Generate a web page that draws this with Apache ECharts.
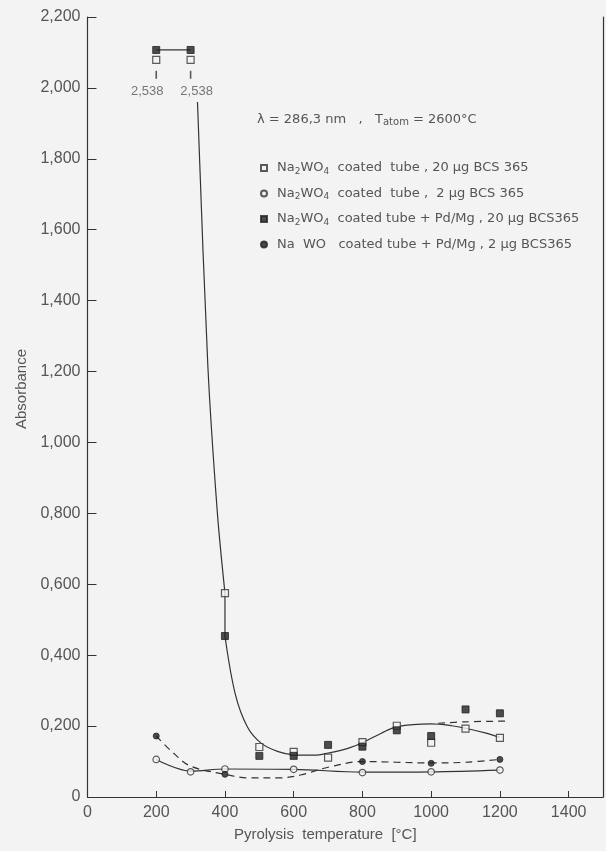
<!DOCTYPE html>
<html>
<head>
<meta charset="utf-8">
<script src="https://cdn.jsdelivr.net/npm/echarts@6/dist/echarts.min.js"></script>
<style>
  html, body { margin: 0; padding: 0; background: #f3f3f3; }
  #chart { width: 606px; height: 851px; }
</style>
</head>
<body>
<div id="chart"></div>
<script>
// Pyrolysis temperatures (°C) of the measurements
const temperatures = [200, 300, 400, 500, 600, 700, 800, 900, 1000, 1100, 1200];

// Absorbance per temperature (null = not measured)
const coated20   = [2.538, 2.538, 0.575, 0.141, 0.127, 0.111, 0.155, 0.201, 0.153, 0.193, 0.167];
const coated2    = [0.106, 0.071, 0.079, null, 0.078, null, 0.069, null, 0.071, null, 0.076];
const coatedPd20 = [2.538, 2.538, 0.454, 0.116, 0.116, 0.147, 0.142, 0.188, 0.172, 0.247, 0.236];
const coatedPd2  = [0.172, null, 0.064, null, null, null, 0.100, null, 0.095, null, 0.106];

// Hand-drawn trend curves, [temperature, absorbance]
const trendHighDrop = [[320, 1.96], [350, 1.22], [378, 0.80], [400, 0.575]];
const trendHighStep = [[400, 0.575], [400, 0.454]];
const trendHighTail = [[400, 0.454], [430, 0.29], [465, 0.198], [505, 0.152], [555, 0.128], [600, 0.119],
                       [660, 0.118], [700, 0.124], [760, 0.138], [800, 0.153], [855, 0.18], [900, 0.198],
                       [1000, 0.206], [1060, 0.201], [1100, 0.194], [1160, 0.18], [1200, 0.168]];
const trendHighPd   = [[1020, 0.208], [1100, 0.212], [1215, 0.214]];
const trendLow      = [[200, 0.106], [300, 0.073], [400, 0.079], [600, 0.078], [800, 0.070], [1000, 0.071], [1200, 0.076]];
const trendLowPd    = [[200, 0.172], [250, 0.124], [300, 0.087], [400, 0.064], [470, 0.054], [560, 0.054],
                       [620, 0.062], [700, 0.084], [800, 0.100], [1000, 0.096], [1100, 0.098], [1200, 0.106]];

// Axis ticks
const xTicks = { min: 0, max: 1500, step: 200 };
const yTicks = { min: 0, max: 2.2, step: 0.2 };

// Off-scale readings are parked just under the top of the frame
const OFF_FILLED = 2.107, OFF_OPEN = 2.079, OFF_ARROW = 2.037;

const names = [
  'Na2WO4  coated  tube , 20 µg BCS 365',
  'Na2WO4  coated  tube ,  2 µg BCS 365',
  'Na2WO4  coated tube + Pd/Mg , 20 µg BCS365',
  'Na  WO   coated tube + Pd/Mg , 2 µg BCS365'
];

const INK = '#333';
const TXT = '#555';
const BG = '#f3f3f3';

function points(values, offLevel) {
  const out = [];
  temperatures.forEach((t, i) => {
    const v = values[i];
    if (v == null) return;
    out.push([t, v > yTicks.max ? offLevel : v, v]);
  });
  return out;
}
function offScale(values, level) {
  const out = [];
  temperatures.forEach((t, i) => {
    const v = values[i];
    if (v != null && v > yTicks.max) out.push([t, level, v]);
  });
  return out;
}
const fmtComma = v => v === 0 ? '0' : v.toFixed(3).replace('.', ',');

function trend(data, dashed, smooth) {
  return {
    type: 'line', data, smooth: smooth == null ? 0.35 : smooth, showSymbol: false, silent: true,
    lineStyle: { color: INK, width: 1.2, type: dashed ? [7, 5] : 'solid' }, z: 2
  };
}

// value labels of the off-scale points, spread apart so they do not collide
const arrowPoints = offScale(coated20, OFF_ARROW).map((p, i, all) => ({
  value: p,
  label: { offset: [all.length > 1 ? (i === 0 ? -9 : 6) : 0, 0] }
}));

const chart = echarts.init(document.getElementById('chart'));
chart.setOption({
  backgroundColor: BG,
  animation: false,
  textStyle: { fontFamily: 'Liberation Sans' },
  grid: { left: 87.5, right: 3, top: 17, bottom: 54, containLabel: false },
  xAxis: {
    type: 'value', min: xTicks.min, max: xTicks.max, interval: xTicks.step,
    axisLine: { lineStyle: { color: INK, width: 1.2 } },
    axisTick: { inside: true, length: 6, lineStyle: { color: INK } },
    axisLabel: { showMaxLabel: false, margin: 8, fontSize: 16, color: TXT, formatter: v => String(v) },
    splitLine: { show: false },
    name: 'Pyrolysis  temperature  [°C]',
    nameLocation: 'middle', nameGap: 30,
    nameTextStyle: { fontSize: 15, color: TXT, padding: [0, 40, 0, 0] }
  },
  yAxis: [{
    type: 'value', min: yTicks.min, max: yTicks.max, interval: yTicks.step,
    axisLine: { show: true, lineStyle: { color: INK, width: 1.2 } },
    axisTick: { show: true, inside: true, length: 9, lineStyle: { color: INK } },
    axisLabel: { margin: 7, fontSize: 16, color: TXT, formatter: fmtComma },
    splitLine: { show: false },
    name: 'Absorbance', nameLocation: 'middle', nameGap: 58,
    nameTextStyle: { fontSize: 15, color: TXT, padding: [0, 0, 0, 36] }
  }, {
    type: 'value', min: yTicks.min, max: yTicks.max, position: 'right',
    axisLine: { show: true, lineStyle: { color: INK, width: 1.2 } },
    axisTick: { show: false }, axisLabel: { show: false }, splitLine: { show: false }
  }],
  legend: {
    orient: 'vertical', left: 255, top: 154,
    itemWidth: 6, itemHeight: 6, itemGap: 7.5,
    selectedMode: false,
    data: [
      { name: names[0], icon: 'rect' },
      { name: names[1], icon: 'circle' },
      { name: names[2], icon: 'rect' },
      { name: names[3], icon: 'circle' }
    ],
    formatter: n => n.replace(/Na2WO4/, 'Na{sub|2}WO{sub|4}'),
    textStyle: {
      fontFamily: 'DejaVu Sans', fontSize: 13, color: TXT, lineHeight: 18, padding: [0, 0, 0, 5],
      rich: { sub: { fontFamily: 'DejaVu Sans', fontSize: 9, color: TXT, lineHeight: 18, padding: [7, 0, 0, 0] } }
    }
  },
  graphic: [{
    type: 'text', left: 257, top: 113,
    style: {
      text: 'λ = 286,3 nm   ,   T{sub|atom} = 2600°C',
      fontFamily: 'DejaVu Sans', fontSize: 13, fill: TXT,
      rich: { sub: { fontFamily: 'DejaVu Sans', fontSize: 10, fill: TXT, padding: [5, 0, 0, 0] } }
    }
  }],
  series: [
    trend(trendHighDrop, false, 0.3),
    trend(trendHighStep, false, false),
    trend(trendHighTail, false),
    trend(trendHighPd, true),
    trend(trendLow, false),
    trend(trendLowPd, true),
    // link between the two off-scale readings
    {
      type: 'line', data: offScale(coatedPd20, OFF_FILLED), showSymbol: false, silent: true,
      lineStyle: { color: INK, width: 1.2 }, z: 2
    },
    {
      name: names[0], type: 'scatter', data: points(coated20, OFF_OPEN),
      symbol: 'rect', symbolSize: 7,
      itemStyle: { color: BG, borderColor: INK, borderWidth: 1.2 }, z: 4
    },
    {
      name: names[1], type: 'scatter', data: points(coated2, OFF_OPEN),
      symbol: 'circle', symbolSize: 6.5,
      itemStyle: { color: BG, borderColor: INK, borderWidth: 1.2 }, z: 4
    },
    {
      name: names[2], type: 'scatter', data: points(coatedPd20, OFF_FILLED),
      symbol: 'rect', symbolSize: 7,
      itemStyle: { color: '#222', borderColor: '#222', borderWidth: 1 }, z: 5
    },
    {
      name: names[3], type: 'scatter', data: points(coatedPd2, OFF_FILLED),
      symbol: 'circle', symbolSize: 6,
      itemStyle: { color: '#222', borderColor: '#222', borderWidth: 1 }, z: 5
    },
    // arrows and true values of off-scale readings
    {
      type: 'scatter', data: arrowPoints, silent: true,
      symbol: 'rect', symbolSize: [1.6, 8],
      itemStyle: { color: INK },
      label: {
        show: true, position: 'bottom', distance: 6,
        formatter: p => fmtComma(p.value[2]),
        fontFamily: 'Liberation Sans', fontSize: 13, color: TXT
      }, z: 4
    }
  ]
});
</script>
</body>
</html>
